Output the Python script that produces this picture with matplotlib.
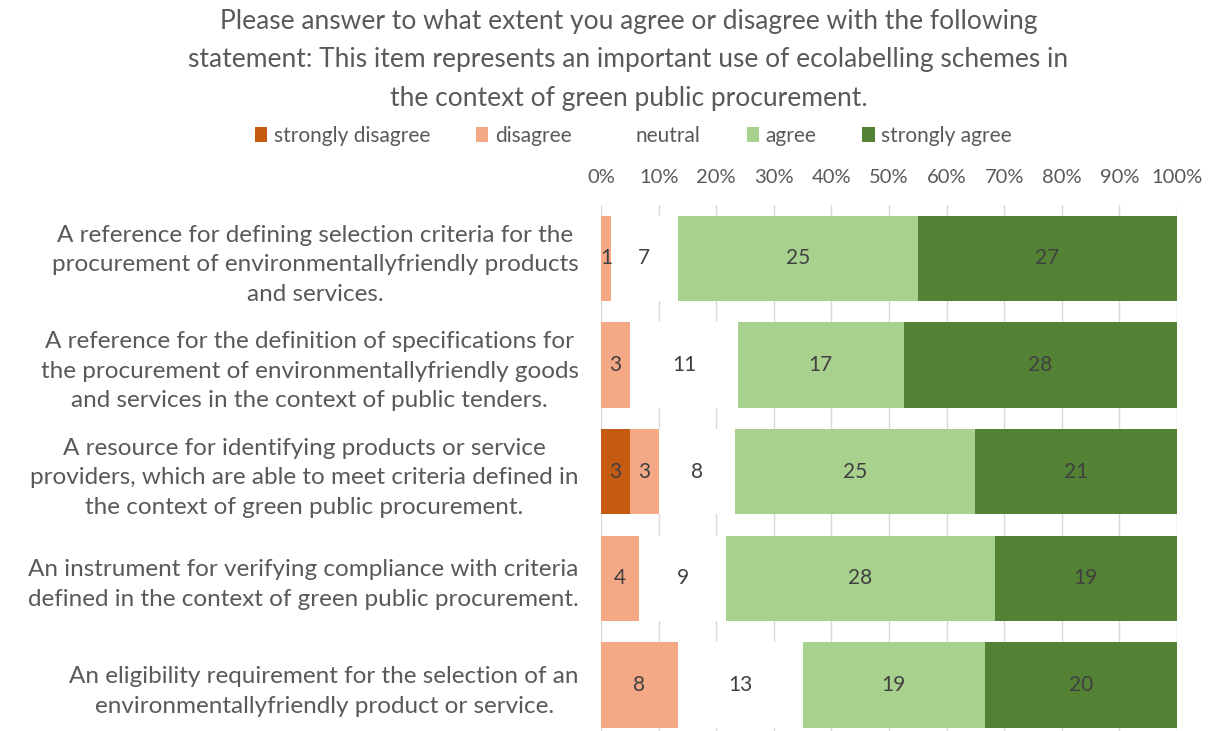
import numpy as np
import matplotlib.pyplot as plt
from matplotlib.patches import Patch
from matplotlib.ticker import PercentFormatter

plt.rcParams['font.family'] = ['Lato', 'DejaVu Sans']

# ── Survey responses (counts) ─────────────────────────────
statements = [
    "A reference for defining selection criteria for the\nprocurement of environmentallyfriendly products\nand services.",
    "A reference for the definition of specifications for\nthe procurement of environmentallyfriendly goods\nand services in the context of public tenders.",
    "A resource for identifying products or service\nproviders, which are able to meet criteria defined in\nthe context of green public procurement.",
    "An instrument for verifying compliance with criteria\ndefined in the context of green public procurement.",
    "An eligibility requirement for the selection of an\nenvironmentallyfriendly product or service.",
]
levels = ["strongly disagree", "disagree", "neutral", "agree", "strongly agree"]
strongly_disagree = [0, 0, 3, 0, 0]
disagree = [1, 3, 3, 4, 8]
neutral = [7, 11, 8, 9, 13]
agree = [25, 17, 25, 28, 19]
strongly_agree = [27, 28, 21, 19, 20]

colors = ["#C55A11", "#F4A886", "#FFFFFF", "#A9D18E", "#548235"]
text_grey = "#595959"

counts = np.array([strongly_disagree, disagree, neutral, agree, strongly_agree], dtype=float)
shares = counts / counts.sum(axis=0)

# ── Plot ──────────────────────────────────────────────────
fig = plt.figure(figsize=(12.13, 7.31), dpi=100)
ax = fig.add_axes([0.4955, 0.0, 0.4748, 0.7196])

y = np.arange(len(statements))
left = np.zeros(len(statements))
for i, name in enumerate(levels):
    ax.barh(y, shares[i], left=left, height=0.8, color=colors[i],
            edgecolor="none", label=name, zorder=2)
    for j in range(len(statements)):
        if counts[i, j] > 0:
            ax.text(left[j] + shares[i, j] / 2, y[j], f"{int(counts[i, j])}",
                    ha="center", va="center", fontsize=15, color="#404040", zorder=3)
    left += shares[i]

ax.set_xlim(0, 1)
ax.set_ylim(4.43, -0.5)
ax.xaxis.set_major_formatter(PercentFormatter(1.0, decimals=0))
ax.set_xticks(np.linspace(0, 1, 11))
ax.xaxis.tick_top()
ax.tick_params(axis="x", length=0, labelsize=14.5, labelcolor=text_grey, pad=14)
ax.tick_params(axis="y", length=0, labelsize=17.5, labelcolor=text_grey, pad=16)
ax.set_yticks(y)
ax.set_yticklabels(statements, multialignment="center", linespacing=1.5)
ax.grid(axis="x", color="#D9D9D9", linewidth=1, zorder=0)
ax.set_axisbelow(True)
for s in ax.spines.values():
    s.set_visible(False)

fig.text(0.518, 0.988,
         "Please answer to what extent you agree or disagree with the following\n"
         "statement: This item represents an important use of ecolabelling schemes in\n"
         "the context of green public procurement.",
         ha="center", va="top", fontsize=19, color=text_grey, linespacing=1.68)

handles = [Patch(facecolor=c, edgecolor="none") for c in colors]
fig.legend(handles, levels, loc="center", bbox_to_anchor=(0.522, 0.814), ncol=5,
           frameon=False, fontsize=15, labelcolor=text_grey, handlelength=0.6,
           handleheight=0.7, handletextpad=0.3, columnspacing=2.2)

plt.savefig("out.png", dpi=100)
